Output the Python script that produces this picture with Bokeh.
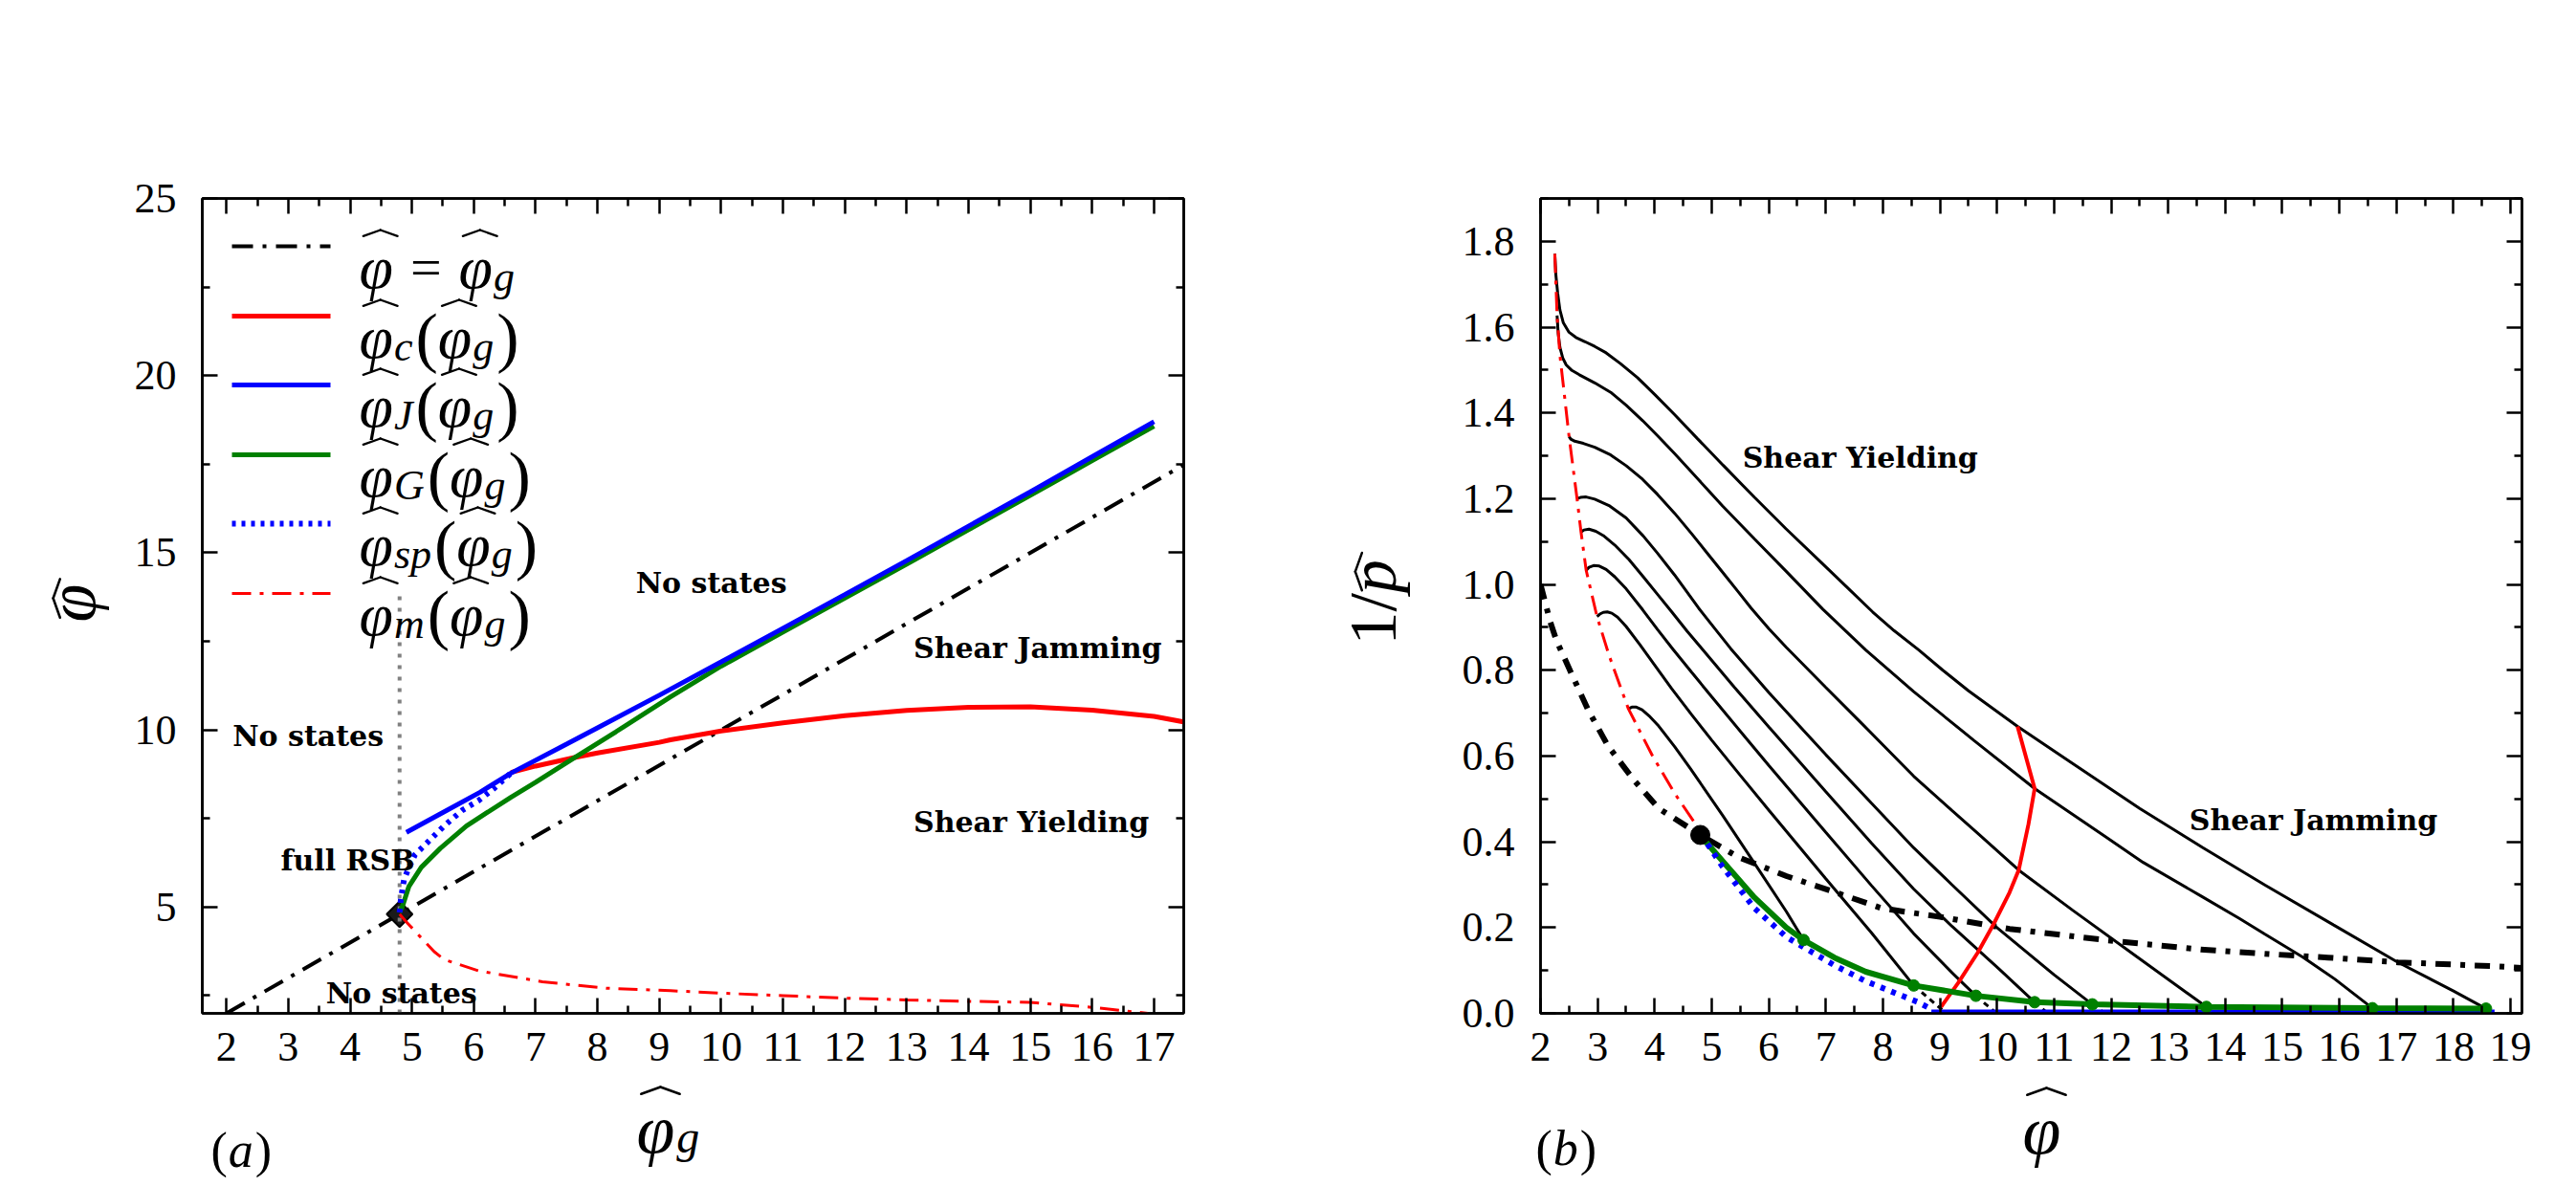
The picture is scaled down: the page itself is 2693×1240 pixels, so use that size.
import glob
import math
import os

from bokeh.embed import file_html
from bokeh.layouts import column, row
from bokeh.models import (Arrow, CustomLabelingPolicy, FixedTicker, Label, LinearAxis,
                          PrintfTickFormatter, Range1d)
from bokeh.plotting import figure
from bokeh.resources import INLINE

try:
    from PIL import ImageFont
except Exception:
    ImageFont = None

# ---------------------------------------------------------------------------
# Panel (a): phi_hat against phi_hat_g
# ---------------------------------------------------------------------------
a_x_ticks = list(range(2, 18))
a_x_minor = [i + 0.5 for i in range(2, 17)]
a_y_ticks = [5, 10, 15, 20, 25]
a_y_minor = [2.5, 7.5, 12.5, 17.5, 22.5]

# phi = phi_g
a_diag_x = [2.0, 17.5]
a_diag_y = [2.0, 17.5]

# phi_c(phi_g)
a_c_x = [6.6, 7.0, 7.63, 8.0, 9.0, 9.18, 10.0, 11.0, 12.0, 13.0, 14.0, 15.0, 16.0, 17.0, 17.5]
a_c_y = [8.8, 8.98, 9.22, 9.35, 9.65, 9.72, 9.97, 10.2, 10.4, 10.55, 10.64, 10.65, 10.56, 10.38, 10.22]

# phi_J(phi_g)
a_j_x = [4.91, 5.5, 6.1, 6.6, 7.5, 8.0, 9.0, 10.0, 11.0, 12.0, 13.0, 14.0, 15.0, 16.0, 17.0]
a_j_y = [7.11, 7.67, 8.24, 8.78, 9.6, 10.06, 10.98, 11.92, 12.87, 13.82, 14.78, 15.75, 16.72, 17.71, 18.7]

# phi_G(phi_g)
a_g_x = [4.8, 4.85, 4.95, 5.15, 5.46, 5.88, 6.6, 7.0, 7.63, 8.3, 9.18, 10.0, 11.0, 12.0, 13.0, 14.0, 15.0, 16.0, 17.0]
a_g_y = [4.85, 5.04, 5.58, 6.12, 6.66, 7.29, 8.10, 8.52, 9.22, 9.95, 10.93, 11.8, 12.76, 13.72, 14.68, 15.65, 16.62, 17.6, 18.57]

# phi_sp(phi_g)
a_sp_x = [4.8, 4.82, 4.87, 4.95, 5.05, 5.26, 5.52, 5.82, 6.08, 6.34, 6.6]
a_sp_y = [4.85, 5.22, 5.76, 6.12, 6.48, 6.84, 7.29, 7.74, 8.01, 8.37, 8.78]

# phi_m(phi_g)
a_m_x = [4.8, 4.9, 5.36, 5.52, 6.08, 7.11, 8.14, 9.18, 10.0, 11.0, 12.0, 13.0, 14.0, 15.0, 16.0, 16.9]
a_m_y = [4.8, 4.6, 3.74, 3.52, 3.2, 2.89, 2.71, 2.64, 2.57, 2.5, 2.43, 2.38, 2.34, 2.31, 2.17, 2.0]

# full-RSB point and the vertical guide through it
a_rsb_x = [4.8]
a_rsb_y = [4.8]
a_guide_x = [4.8, 4.8]
a_guide_y = [2.0, 13.8]

# ---------------------------------------------------------------------------
# Panel (b): 1/p_hat against phi_hat
# ---------------------------------------------------------------------------
b_x_ticks = list(range(2, 20))
b_x_minor = [i + 0.5 for i in range(2, 19)]
b_y_ticks = [0.0, 0.2, 0.4, 0.6, 0.8, 1.0, 1.2, 1.4, 1.6, 1.8]
b_y_minor = [0.1, 0.3, 0.5, 0.7, 0.9, 1.1, 1.3, 1.5, 1.7, 1.9]

# state-following curves, from the highest to the lowest glass
b_c1_x = [2.25, 2.27, 2.30, 2.34, 2.40, 2.50, 2.62, 2.78, 2.95, 3.15, 3.40, 3.70, 4.00, 4.35, 4.75, 5.20,
          5.75, 6.30, 6.85, 7.40, 7.82, 8.20, 8.63, 9.05, 9.50, 10.36, 11.30, 12.50, 13.60, 14.70, 15.90,
          17.00, 18.00, 18.57]
b_c1_y = [1.771, 1.720, 1.680, 1.640, 1.610, 1.588, 1.576, 1.566, 1.555, 1.540, 1.515, 1.482, 1.443, 1.396,
          1.340, 1.278, 1.203, 1.130, 1.060, 0.990, 0.936, 0.892, 0.847, 0.800, 0.752, 0.669, 0.585, 0.478,
          0.387, 0.299, 0.206, 0.121, 0.052, 0.011]
b_c2_x = [2.29, 2.31, 2.34, 2.39, 2.45, 2.55, 2.68, 2.95, 3.23, 3.50, 3.79, 4.05, 4.35, 4.75, 5.19, 5.75,
          6.31, 6.95, 7.70, 8.54, 9.60, 10.66, 11.90, 12.56, 13.57, 14.24, 14.69, 15.36, 15.92, 16.58]
b_c2_y = [1.627, 1.585, 1.553, 1.528, 1.512, 1.499, 1.489, 1.470, 1.448, 1.418, 1.382, 1.347, 1.305, 1.247,
          1.183, 1.106, 1.030, 0.942, 0.847, 0.750, 0.636, 0.524, 0.412, 0.352, 0.274, 0.222, 0.185, 0.131,
          0.080, 0.012]
b_c3_x = [2.50, 2.53, 2.60, 2.75, 2.95, 3.23, 3.50, 3.79, 4.05, 4.35, 4.65, 4.91, 5.20, 5.47, 5.69, 6.00,
          6.31, 7.00, 7.60, 8.54, 9.21, 9.66, 10.38, 11.33, 12.45, 13.67]
b_c3_y = [1.345, 1.339, 1.334, 1.329, 1.320, 1.302, 1.277, 1.245, 1.210, 1.166, 1.118, 1.075, 1.027, 0.982,
          0.945, 0.897, 0.853, 0.760, 0.680, 0.553, 0.473, 0.420, 0.334, 0.240, 0.132, 0.015]
b_c4_x = [2.64, 2.70, 2.80, 2.95, 3.20, 3.50, 3.80, 4.05, 4.35, 4.77, 5.05, 5.33, 6.00, 7.00, 7.80, 8.54,
          9.21, 10.00, 11.00, 11.67]
b_c4_y = [1.200, 1.203, 1.204, 1.199, 1.184, 1.155, 1.113, 1.073, 1.022, 0.945, 0.898, 0.851, 0.748, 0.603,
          0.490, 0.386, 0.300, 0.200, 0.090, 0.021]
b_c5_x = [2.71, 2.76, 2.85, 2.97, 3.10, 3.30, 3.55, 3.80, 4.05, 4.30, 4.57, 4.85, 5.40, 6.00, 7.00, 7.80,
          8.54, 9.21, 10.00, 10.66]
b_c5_y = [1.122, 1.127, 1.129, 1.124, 1.114, 1.092, 1.058, 1.018, 0.977, 0.936, 0.891, 0.847, 0.760, 0.668,
          0.517, 0.397, 0.290, 0.203, 0.108, 0.026]
b_c6_x = [2.80, 2.85, 2.93, 3.03, 3.15, 3.30, 3.50, 3.79, 4.05, 4.32, 4.65, 5.00, 5.50, 6.00, 7.00, 7.80,
          8.54, 9.21, 9.63]
b_c6_y = [1.033, 1.040, 1.044, 1.043, 1.035, 1.018, 0.990, 0.941, 0.895, 0.849, 0.795, 0.738, 0.658, 0.578,
          0.422, 0.298, 0.186, 0.095, 0.041]
b_c7_x = [2.99, 3.04, 3.10, 3.17, 3.25, 3.35, 3.50, 3.74, 4.00, 4.30, 4.65, 5.00, 5.50, 6.00, 7.00, 7.80, 8.54]
b_c7_y = [0.925, 0.931, 0.935, 0.936, 0.933, 0.924, 0.902, 0.860, 0.812, 0.757, 0.696, 0.637, 0.555, 0.474,
          0.314, 0.188, 0.065]
b_c8_x = [3.54, 3.60, 3.68, 3.78, 3.90, 4.07, 4.35, 4.63, 5.19, 5.75, 6.31, 6.61]
b_c8_y = [0.710, 0.714, 0.714, 0.708, 0.694, 0.670, 0.622, 0.570, 0.462, 0.350, 0.237, 0.171]

# unstable continuations below the jamming line
b_tail_x0 = [8.54, 9.63, 10.66, 11.67]
b_tail_y0 = [0.065, 0.041, 0.026, 0.021]
b_tail_x1 = [9.04, 9.99, 10.89, 11.89]
b_tail_y1 = [0.008, 0.0, 0.0, 0.0]

# equilibrium line
b_eq_x = [2.00, 2.17, 2.28, 2.56, 2.84, 3.18, 3.63, 4.07, 4.80, 5.47, 6.31, 7.15, 7.98, 9.00, 10.22, 11.89,
          13.57, 14.80, 15.80, 17.03, 18.70, 19.20]
b_eq_y = [1.000, 0.913, 0.869, 0.787, 0.706, 0.624, 0.545, 0.478, 0.416, 0.364, 0.320, 0.283, 0.245, 0.225,
          0.197, 0.171, 0.149, 0.138, 0.130, 0.119, 0.110, 0.106]

# melting line through the curve maxima
b_m_x = [2.25, 2.29, 2.34, 2.42, 2.50, 2.64, 2.71, 2.80, 2.99, 3.20, 3.54, 3.96, 4.35, 4.75]
b_m_y = [1.771, 1.627, 1.534, 1.440, 1.345, 1.200, 1.122, 1.033, 0.925, 0.835, 0.710, 0.601, 0.513, 0.435]

# yielding line
b_y_x = [9.02, 9.32, 9.66, 9.94, 10.22, 10.38, 10.55, 10.66, 10.36]
b_y_y = [0.015, 0.071, 0.141, 0.208, 0.282, 0.334, 0.440, 0.524, 0.669]

# Gardner line and its end points on each curve
b_g_x = [4.80, 4.91, 5.19, 5.75, 6.31, 6.61, 7.15, 7.70, 8.54, 9.63, 10.66, 11.67, 13.67, 16.58, 18.57]
b_g_y = [0.416, 0.398, 0.355, 0.270, 0.200, 0.171, 0.130, 0.097, 0.065, 0.041, 0.026, 0.021, 0.015, 0.012, 0.011]
b_gdot_x = [6.61, 8.54, 9.63, 10.66, 11.67, 13.67, 16.58, 18.57]
b_gdot_y = [0.171, 0.065, 0.041, 0.026, 0.021, 0.015, 0.012, 0.011]

# spinodal and jamming line
b_sp_x = [4.80, 4.91, 5.19, 5.75, 6.31, 6.59, 7.15, 7.70, 8.26, 8.60, 8.82, 8.88]
b_sp_y = [0.416, 0.398, 0.342, 0.245, 0.178, 0.156, 0.112, 0.075, 0.045, 0.027, 0.012, 0.0]
b_jam_x = [8.85, 18.72]
b_jam_y = [0.0, 0.0]

b_rsb_x = [4.80]
b_rsb_y = [0.416]

# ---------------------------------------------------------------------------
# text helpers
# ---------------------------------------------------------------------------
FONTS = {
    "it": ("Liberation Serif", "italic", "LiberationSerif-Italic.ttf"),
    "rm": ("Liberation Serif", "normal", "LiberationSerif-Regular.ttf"),
}
MID = 0.3375          # height of the em-box middle above the baseline, in em
_font_cache = {}


def _font_file(fname):
    if fname not in _font_cache:
        hits = []
        for root in ("/usr/share/fonts", "/usr/local/share/fonts", os.path.expanduser("~/.fonts")):
            hits += glob.glob(os.path.join(root, "**", fname), recursive=True)
        _font_cache[fname] = hits[0] if hits else None
    return _font_cache[fname]


def text_len(text, size, style):
    path = _font_file(FONTS[style][2])
    if ImageFont is not None and path:
        try:
            return ImageFont.truetype(path, size).getlength(text)
        except Exception:
            pass
    return 0.5 * size * len(text)


def add_hat(p, origin, px, py, w, size, vertical):
    """Wide circumflex over a glyph whose baseline starts at page point (px, py)."""
    ox, oy = origin
    half, h, up, lean = 0.28 * size, 0.10 * size, 0.61 * size, 0.07 * size
    if vertical:
        cy = py - (w / 2 + lean)
        apex, a, b = (px - up, cy), (px - up + h, cy + half), (px - up + h, cy - half)
    else:
        cx = px + w / 2 + lean
        apex, a, b = (cx, py - up), (cx - half, py - up + h), (cx + half, py - up + h)
    for s, e in ((a, apex), (apex, b)):
        p.add_layout(Arrow(x_start=s[0] - ox, y_start=oy - s[1], x_end=e[0] - ox, y_end=oy - e[1],
                           start_units="screen", end_units="screen", end=None,
                           line_color="black", line_width=max(2.0, size / 28), line_cap="round"))


def math_run(p, origin, pieces, x0, y0, vertical=False):
    """Lay out text pieces (text, style, size, rise, kern, hat) from a page position.

    origin is the page position of the bottom-left corner of the plot frame that p draws in;
    (x0, y0) is the start of the baseline. Vertical runs read upwards and are anchored at
    the centre of each piece.
    """
    ox, oy = origin
    adv = 0.0
    for text, style, size, rise, kern, hat in pieces:
        adv += kern
        w = text_len(text, size, style)
        family, fstyle, _ = FONTS[style]
        if vertical:
            px, py = x0 - rise, y0 - adv
            lx, ly = px - MID * size, py - w / 2
            extra = dict(angle=math.pi / 2, text_align="center", text_baseline="middle")
        else:
            px, py = x0 + adv, y0 - rise
            lx, ly = px, py
            extra = dict(angle=0.0, text_align="left", text_baseline="alphabetic")
        p.add_layout(Label(x=lx - ox, y=oy - ly, x_units="screen", y_units="screen", text=text,
                           text_font=family, text_font_style=fstyle, text_font_size=f"{size}px",
                           text_color="black", **extra))
        if hat:
            add_hat(p, origin, px, py, w, size, vertical)
        adv += w


def style_axis(ax, labels, standoff=20):
    ax.axis_line_width = 2.5
    ax.axis_line_color = "black"
    ax.major_tick_line_width = 2.5
    ax.minor_tick_line_width = 2.5
    ax.major_tick_line_color = "black"
    ax.minor_tick_line_color = "black"
    ax.major_tick_in = 16
    ax.major_tick_out = 0
    ax.minor_tick_in = 8
    ax.minor_tick_out = 0
    if labels:
        ax.major_label_text_font = "Liberation Serif"
        ax.major_label_text_font_size = "44px"
        ax.major_label_text_color = "black"
        ax.major_label_standoff = standoff
    else:
        ax.major_label_policy = CustomLabelingPolicy(code="if (false) { yield 0 }")
        ax.major_label_standoff = 0


def build_panel(width, height, xr, yr, borders, xt, xm, yt, ym, yfmt=None):
    left, right, top, bottom = borders
    p = figure(width=width, height=height, x_range=Range1d(*xr), y_range=Range1d(*yr),
               output_backend="svg", toolbar_location=None, tools="",
               min_border_left=left, min_border_right=right, min_border_top=top, min_border_bottom=bottom)
    p.grid.visible = False
    p.background_fill_color = "white"
    p.border_fill_color = "white"
    p.outline_line_color = "black"
    p.outline_line_width = 2.5
    x_ticker = FixedTicker(ticks=xt, minor_ticks=xm)
    y_ticker = FixedTicker(ticks=yt, minor_ticks=ym)
    p.below[0].ticker = x_ticker
    p.left[0].ticker = y_ticker
    if yfmt is not None:
        p.left[0].formatter = yfmt
    p.add_layout(LinearAxis(ticker=x_ticker), "above")
    p.add_layout(LinearAxis(ticker=y_ticker), "right")
    style_axis(p.below[0], True, 20)
    style_axis(p.left[0], True, 27)
    style_axis(p.above[0], False)
    style_axis(p.right[0], False)
    return p


def text_canvas(width, height, top=0, bottom=0):
    p = figure(width=width, height=height, x_range=Range1d(0, width), y_range=Range1d(0, 1),
               x_axis_type=None, y_axis_type=None, output_backend="svg", toolbar_location=None,
               tools="", min_border_left=0, min_border_right=0,
               min_border_top=top, min_border_bottom=bottom)
    p.grid.visible = False
    p.outline_line_color = None
    p.background_fill_color = "white"
    p.border_fill_color = "white"
    return p


def note(p, x, y, text):
    p.add_layout(Label(x=x, y=y, text=text, text_font="DejaVu Serif", text_font_style="bold",
                       text_font_size="30px", text_color="black",
                       text_baseline="alphabetic", text_align="left"))


PHI = "\u03c6"
PAGE_W, PAGE_H = 2693, 1240
TOP_H = 1130           # height of the row holding both panels
FRAME_TOP, FRAME_BOTTOM = 207, 1059
BORDER_T, BORDER_B = FRAME_TOP, TOP_H - FRAME_BOTTOM

# ---------------------------------------------------------------------------
# panel (a)
# ---------------------------------------------------------------------------
A_ORIGIN = (211, FRAME_BOTTOM)          # frame bottom-left on the page
pa = build_panel(1207, TOP_H, (1.61, 17.48), (2.0, 25.0), (81, 100, BORDER_T, BORDER_B),
                 a_x_ticks, a_x_minor, a_y_ticks, a_y_minor)

pa.line(a_diag_x, a_diag_y, line_color="black", line_width=4, line_dash="22 10 4 10")
pa.scatter(a_rsb_x, a_rsb_y, marker="square", angle=math.pi / 4, size=19,
           fill_color="#1a1a1a", line_color="black", line_width=2)
pa.line(a_guide_x, a_guide_y, line_color="#808080", line_width=4, line_dash="4 8")
pa.line(a_c_x, a_c_y, line_color="#ff0000", line_width=5)
pa.line(a_g_x, a_g_y, line_color="#008000", line_width=5)
pa.line(a_j_x, a_j_y, line_color="#0000ff", line_width=5)
pa.line(a_sp_x, a_sp_y, line_color="#0000ff", line_width=6, line_dash="4 6")
pa.line(a_m_x, a_m_y, line_color="#ff0000", line_width=3, line_dash="20 9 4 9")

note(pa, 8.62, 14.16, "No states")
note(pa, 13.11, 12.31, "Shear Jamming")
note(pa, 2.10, 9.82, "No states")
note(pa, 13.11, 7.40, "Shear Yielding")
note(pa, 2.88, 6.33, "full RSB")
note(pa, 3.61, 2.57, "No states")

# legend: sample strokes and composed labels
legend_rows = [257, 330, 402, 475, 547, 620]
legend_styles = [
    dict(line_color="black", line_width=4, line_dash="22 10 4 10"),
    dict(line_color="#ff0000", line_width=5, line_dash="solid"),
    dict(line_color="#0000ff", line_width=5, line_dash="solid"),
    dict(line_color="#008000", line_width=5, line_dash="solid"),
    dict(line_color="#0000ff", line_width=6, line_dash="4 6"),
    dict(line_color="#ff0000", line_width=3, line_dash="20 9 4 9"),
]
legend_subs = [None, "c", "J", "G", "sp", "m"]
for ry, st, sub in zip(legend_rows, legend_styles, legend_subs):
    pa.add_layout(Arrow(x_start=242 - A_ORIGIN[0], y_start=A_ORIGIN[1] - ry,
                        x_end=345 - A_ORIGIN[0], y_end=A_ORIGIN[1] - ry,
                        start_units="screen", end_units="screen", end=None, **st))
    if sub is None:
        pieces = [(PHI, "it", 64, 0, 0, True), ("=", "rm", 58, 0, 18, False),
                  (PHI, "it", 64, 0, 18, True), ("g", "it", 44, -10, 1, False)]
    else:
        pieces = [(PHI, "it", 64, 0, 0, True), (sub, "it", 44, -10, 1, False), ("(", "rm", 70, 0, 3, False),
                  (PHI, "it", 64, 0, 0, True), ("g", "it", 44, -10, 1, False), (")", "rm", 70, 0, 3, False)]
    math_run(pa, A_ORIGIN, pieces, 375, ry + 22)

# ---------------------------------------------------------------------------
# panel (b)
# ---------------------------------------------------------------------------
B_ORIGIN = (1610, FRAME_BOTTOM)
pb = build_panel(1203, TOP_H, (2.0, 19.2), (0.0, 1.9), (120, 57, BORDER_T, BORDER_B),
                 b_x_ticks, b_x_minor, b_y_ticks, b_y_minor, PrintfTickFormatter(format="%.1f"))

for cx, cy in [(b_c1_x, b_c1_y), (b_c2_x, b_c2_y), (b_c3_x, b_c3_y), (b_c4_x, b_c4_y),
               (b_c5_x, b_c5_y), (b_c6_x, b_c6_y), (b_c7_x, b_c7_y), (b_c8_x, b_c8_y)]:
    pb.line(cx, cy, line_color="black", line_width=3)
pb.segment(b_tail_x0, b_tail_y0, b_tail_x1, b_tail_y1, line_color="black", line_width=3, line_dash="6 5")
pb.line(b_eq_x, b_eq_y, line_color="black", line_width=6, line_dash="16 10 5 10")
pb.line(b_m_x, b_m_y, line_color="#ff0000", line_width=3, line_dash="20 8 4 8")
pb.line(b_y_x, b_y_y, line_color="#ff0000", line_width=4)
pb.line(b_jam_x, b_jam_y, line_color="#0000ff", line_width=8)
pb.line(b_g_x, b_g_y, line_color="#008000", line_width=6)
pb.line(b_sp_x, b_sp_y, line_color="#0000ff", line_width=6, line_dash="5 7")
pb.scatter(b_gdot_x, b_gdot_y, marker="circle", size=12, fill_color="#008000", line_color="#008000")
pb.scatter(b_rsb_x, b_rsb_y, marker="circle", size=20, fill_color="black", line_color="black")

note(pb, 5.54, 1.296, "Shear Yielding")
note(pb, 13.37, 0.45, "Shear Jamming")

# ---------------------------------------------------------------------------
# axis titles and panel tags, on plain canvases around the panels
# ---------------------------------------------------------------------------
lab_a = text_canvas(130, TOP_H, BORDER_T, BORDER_B)
math_run(lab_a, (0, FRAME_BOTTOM), [(PHI, "it", 72, 0, 0, True)], 99, 650, vertical=True)

lab_b = text_canvas(153, TOP_H, BORDER_T, BORDER_B)
math_run(lab_b, (1337, FRAME_BOTTOM), [("1/", "rm", 70, 0, 0, False), ("p", "it", 70, 0, 0, True)],
         1459, 674, vertical=True)

# the lower strip is laid out a little below its nominal top, so its texts sit higher
bottom = text_canvas(PAGE_W, PAGE_H - TOP_H)
BOTTOM_ORIGIN = (0, PAGE_H)
LIFT = 20
math_run(bottom, BOTTOM_ORIGIN, [(PHI, "it", 72, 0, 0, True), ("g", "it", 48, -8, 2, False)], 665, 1200 - LIFT)
math_run(bottom, BOTTOM_ORIGIN, [(PHI, "it", 72, 0, 0, True)], 2114, 1201 - LIFT)
math_run(bottom, BOTTOM_ORIGIN, [("(", "rm", 52, 0, 0, False), ("a", "it", 52, 0, 1, False),
                                 (")", "rm", 52, 0, 2, False)], 220, 1222 - LIFT)
math_run(bottom, BOTTOM_ORIGIN, [("(", "rm", 52, 0, 0, False), ("b", "it", 52, 0, 1, False),
                                 (")", "rm", 52, 0, 2, False)], 1605, 1220 - LIFT)

layout = column(row(lab_a, pa, lab_b, pb), bottom)
with open("out.html", "w") as fh:
    fh.write(file_html(layout, INLINE, title="Shear phase diagram"))
